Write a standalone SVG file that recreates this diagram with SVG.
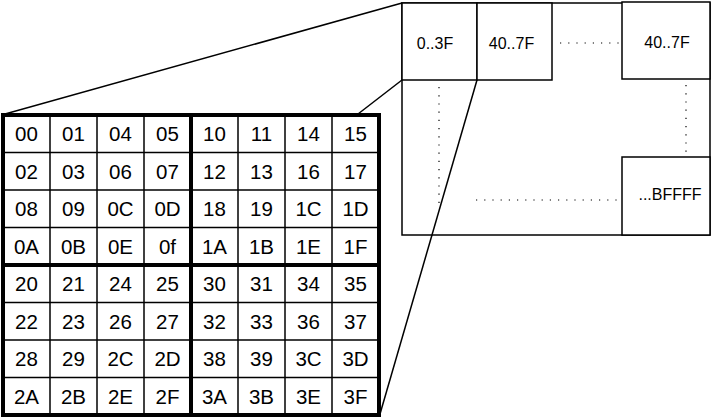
<svg xmlns="http://www.w3.org/2000/svg" width="712" height="418" viewBox="0 0 712 418">
<style>
.thin{stroke:#000;stroke-width:1.5;fill:none}
.thick{stroke:#000;stroke-width:4;fill:none}
.box{stroke:#000;stroke-width:1.5;fill:#fff}
.dot{stroke:#000;stroke-width:1.2;stroke-dasharray:1.2 7;fill:none}
.c{font-family:"Liberation Sans",Arial,sans-serif;font-size:20.5px;text-anchor:middle;fill:#000}
.s{font-family:"Liberation Sans",Arial,sans-serif;font-size:16px;text-anchor:middle;fill:#000}
</style>
<rect width="712" height="418" fill="#fff"/>
<g id="memory-map">
<rect class="box" x="402" y="3" width="308" height="232"/>
<rect class="box" x="402" y="3" width="75" height="77"/>
<text class="s" x="435" y="48.5">0..3F</text>
<rect class="box" x="477" y="3" width="75" height="77"/>
<text class="s" x="511.5" y="48.5">40..7F</text>
<rect class="box" x="622" y="2" width="88" height="77"/>
<text class="s" x="667" y="47.5">40..7F</text>
<rect class="box" x="622" y="157" width="88" height="78"/>
<text class="s" x="670" y="199.5">...BFFFF</text>
<line class="dot" x1="560" y1="43" x2="620" y2="43"/>
<line class="dot" x1="686" y1="85" x2="686" y2="152"/>
<line class="dot" x1="439" y1="87" x2="439" y2="205"/>
<line class="dot" x1="476" y1="200" x2="621" y2="200"/>
</g>
<g id="grid">
<rect x="3" y="115" width="376" height="300" fill="#fff"/>
<g class="thin">
<line x1="50" y1="115" x2="50" y2="415"/>
<line x1="97" y1="115" x2="97" y2="415"/>
<line x1="144" y1="115" x2="144" y2="415"/>
<line x1="238" y1="115" x2="238" y2="415"/>
<line x1="285" y1="115" x2="285" y2="415"/>
<line x1="332" y1="115" x2="332" y2="415"/>
<line x1="3" y1="152.5" x2="379" y2="152.5"/>
<line x1="3" y1="190" x2="379" y2="190"/>
<line x1="3" y1="227.5" x2="379" y2="227.5"/>
<line x1="3" y1="302.5" x2="379" y2="302.5"/>
<line x1="3" y1="340" x2="379" y2="340"/>
<line x1="3" y1="377.5" x2="379" y2="377.5"/>
</g>
<line class="thick" x1="191" y1="115" x2="191" y2="415"/>
<line class="thick" x1="3" y1="265" x2="379" y2="265"/>
<rect class="thick" x="3" y="115" width="376" height="300"/>
<g>
<text class="c" x="26.5" y="141">00</text><text class="c" x="73.5" y="141">01</text><text class="c" x="120.5" y="141">04</text><text class="c" x="167.5" y="141">05</text><text class="c" x="214.5" y="141">10</text><text class="c" x="261.5" y="141">11</text><text class="c" x="308.5" y="141">14</text><text class="c" x="355.5" y="141">15</text>
<text class="c" x="26.5" y="178.5">02</text><text class="c" x="73.5" y="178.5">03</text><text class="c" x="120.5" y="178.5">06</text><text class="c" x="167.5" y="178.5">07</text><text class="c" x="214.5" y="178.5">12</text><text class="c" x="261.5" y="178.5">13</text><text class="c" x="308.5" y="178.5">16</text><text class="c" x="355.5" y="178.5">17</text>
<text class="c" x="26.5" y="216">08</text><text class="c" x="73.5" y="216">09</text><text class="c" x="120.5" y="216">0C</text><text class="c" x="167.5" y="216">0D</text><text class="c" x="214.5" y="216">18</text><text class="c" x="261.5" y="216">19</text><text class="c" x="308.5" y="216">1C</text><text class="c" x="355.5" y="216">1D</text>
<text class="c" x="26.5" y="253.5">0A</text><text class="c" x="73.5" y="253.5">0B</text><text class="c" x="120.5" y="253.5">0E</text><text class="c" x="167.5" y="253.5">0f</text><text class="c" x="214.5" y="253.5">1A</text><text class="c" x="261.5" y="253.5">1B</text><text class="c" x="308.5" y="253.5">1E</text><text class="c" x="355.5" y="253.5">1F</text>
<text class="c" x="26.5" y="291">20</text><text class="c" x="73.5" y="291">21</text><text class="c" x="120.5" y="291">24</text><text class="c" x="167.5" y="291">25</text><text class="c" x="214.5" y="291">30</text><text class="c" x="261.5" y="291">31</text><text class="c" x="308.5" y="291">34</text><text class="c" x="355.5" y="291">35</text>
<text class="c" x="26.5" y="328.5">22</text><text class="c" x="73.5" y="328.5">23</text><text class="c" x="120.5" y="328.5">26</text><text class="c" x="167.5" y="328.5">27</text><text class="c" x="214.5" y="328.5">32</text><text class="c" x="261.5" y="328.5">33</text><text class="c" x="308.5" y="328.5">36</text><text class="c" x="355.5" y="328.5">37</text>
<text class="c" x="26.5" y="366">28</text><text class="c" x="73.5" y="366">29</text><text class="c" x="120.5" y="366">2C</text><text class="c" x="167.5" y="366">2D</text><text class="c" x="214.5" y="366">38</text><text class="c" x="261.5" y="366">39</text><text class="c" x="308.5" y="366">3C</text><text class="c" x="355.5" y="366">3D</text>
<text class="c" x="26.5" y="403.5">2A</text><text class="c" x="73.5" y="403.5">2B</text><text class="c" x="120.5" y="403.5">2E</text><text class="c" x="167.5" y="403.5">2F</text><text class="c" x="214.5" y="403.5">3A</text><text class="c" x="261.5" y="403.5">3B</text><text class="c" x="308.5" y="403.5">3E</text><text class="c" x="355.5" y="403.5">3F</text>
</g>
</g>
<g id="connectors">
<line class="thin" x1="402" y1="3" x2="5" y2="114"/>
<line class="thin" x1="402" y1="80" x2="358" y2="114"/>
<line class="thin" x1="477" y1="80" x2="380" y2="414"/>
</g>
</svg>
